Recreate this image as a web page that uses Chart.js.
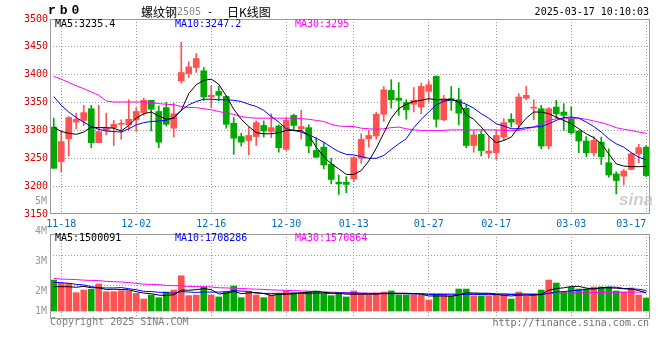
<!DOCTYPE html>
<html><head><meta charset="utf-8">
<script src="https://cdn.jsdelivr.net/npm/chart.js@4/dist/chart.umd.min.js"></script>
<style>
html,body{margin:0;padding:0;background:#fff;}
#wrap{position:relative;width:660px;height:360px;overflow:hidden;background:#fff;}
canvas{position:absolute;left:0;}
.t{position:absolute;white-space:pre;font-family:"DejaVu Sans Mono",monospace;font-size:10px;line-height:12px;height:12px;}
.cjk{position:absolute;white-space:pre;font-family:"Noto Sans CJK SC",sans-serif;font-size:12px;line-height:14px;height:14px;color:#000;}
</style></head><body>
<div id="wrap">
<canvas id="main" width="660" height="230" style="top:0;width:660px;height:230px"></canvas>
<canvas id="vol" width="660" height="150" style="top:190px;width:660px;height:150px"></canvas>
<div class="t" style="left:48px;top:3px;font-family:'Liberation Mono',monospace;font-weight:bold;font-size:13px;line-height:16px;height:16px;letter-spacing:4px;">rb0</div>
<div class="cjk" style="left:141px;top:5px;">螺纹钢</div>
<div class="t" style="left:177px;top:6px;color:#888;">2505</div>
<div class="t" style="left:207px;top:6px;">-</div>
<div class="cjk" style="left:227px;top:5px;">日K线图</div>
<div class="t" style="right:11px;top:6px;text-align:right;">2025-03-17 10:10:03</div>
<div class="t" id="l5" style="left:55px;top:18px;color:#000;"></div>
<div class="t" id="l10" style="left:175px;top:18px;color:#0000ff;"></div>
<div class="t" id="l30" style="left:295px;top:18px;color:#ff00ff;"></div>
<div class="t" id="v5" style="left:55px;top:232px;color:#000;"></div>
<div class="t" id="v10" style="left:175px;top:232px;color:#0000ff;"></div>
<div class="t" id="v30" style="left:295px;top:232px;color:#ff00ff;"></div>
<div class="t" style="left:50px;top:316px;color:#808080;">Copyright 2025 SINA.COM</div>
<div class="t" style="right:11px;top:317px;color:#707070;text-align:right;">http://finance.sina.com.cn</div>
<div style="position:absolute;left:619px;top:190px;font-family:'Liberation Sans',sans-serif;font-style:italic;font-weight:bold;font-size:17px;line-height:20px;color:rgba(190,190,190,0.75);">sina</div>
</div>
<script>
const dates = ['11-15','11-18','11-19','11-20','11-21','11-22','11-25','11-26','11-27','11-28','11-29','12-02','12-03','12-04','12-05','12-06','12-09','12-10','12-11','12-12','12-13','12-16','12-17','12-18','12-19','12-20','12-23','12-24','12-25','12-26','12-27','12-30','12-31','01-02','01-03','01-06','01-07','01-08','01-09','01-10','01-13','01-14','01-15','01-16','01-17','01-20','01-21','01-22','01-23','01-24','01-27','02-05','02-06','02-07','02-10','02-11','02-12','02-13','02-14','02-17','02-18','02-19','02-20','02-21','02-24','02-25','02-26','02-27','02-28','03-03','03-04','03-05','03-06','03-07','03-10','03-11','03-12','03-13','03-14','03-17'];
const xTickLabels = ['11-18','12-02','12-16','12-30','01-13','01-27','02-17','03-03','03-17'];
const priceTicks = [3150,3200,3250,3300,3350,3400,3450,3500];
const volTickValues = [1.333,2,3,4,5];
const volTickLabels = ['1M','2M','3M','4M','5M'];

const open = [3306,3244,3285,3315,3318,3339,3278,3300,3305,3311, 3310,3319,3332,3354,3334,3341,3304,3389,3402,3413, 3407,3360,3370,3361,3313,3289,3282,3289,3309,3298, 3308,3266,3327,3303,3305,3264,3270,3239,3207,3207, 3213,3250,3285,3290,3329,3372,3358,3350,3347,3342, 3370,3397,3319,3357,3355,3340,3273,3293,3259,3260, 3288,3320,3311,3358,3340,3339,3272,3342,3333,3321, 3299,3281,3260,3279,3242,3222,3218,3230,3258,3270];
const high = [3322,3300,3325,3331,3345,3345,3345,3331,3318,3319, 3355,3341,3358,3354,3344,3350,3349,3458,3423,3438, 3413,3380,3379,3362,3323,3295,3306,3317,3317,3330, 3310,3323,3329,3336,3310,3287,3278,3250,3220,3217, 3253,3294,3300,3333,3379,3391,3386,3355,3377,3385, 3389,3398,3363,3379,3376,3347,3300,3300,3289,3301, 3321,3330,3366,3379,3355,3345,3341,3354,3348,3342, 3300,3289,3289,3288,3267,3226,3230,3260,3275,3273];
const low = [3232,3226,3254,3303,3309,3269,3278,3292,3273,3284, 3300,3298,3327,3299,3269,3308,3288,3385,3395,3404, 3354,3341,3353,3304,3257,3272,3256,3273,3288,3287, 3261,3264,3301,3285,3260,3251,3231,3204,3185,3188, 3208,3241,3270,3284,3316,3340,3327,3320,3333,3330, 3351,3306,3317,3336,3310,3269,3261,3254,3251,3248, 3282,3306,3301,3355,3319,3267,3267,3321,3300,3293, 3260,3253,3254,3239,3216,3186,3202,3229,3242,3217];
const close = [3232,3280,3323,3320,3332,3278,3298,3304,3311,3312, 3320,3334,3354,3338,3279,3311,3330,3404,3414,3429, 3360,3363,3363,3311,3286,3279,3291,3314,3299,3305, 3269,3318,3309,3307,3272,3252,3238,3212,3204,3203, 3251,3284,3291,3329,3373,3355,3354,3337,3354,3379, 3382,3320,3357,3354,3331,3273,3292,3264,3263,3291, 3314,3315,3360,3363,3341,3272,3339,3330,3327,3296, 3281,3260,3282,3253,3220,3210,3227,3258,3269,3219];

const ma5 = [3306,3298,3295,3293,3297,3306,3305,3305,3304,3299, 3309,3322,3330,3333,3326,3320,3322,3336,3366,3382, 3390,3392,3383,3362,3338,3320,3307,3296,3294,3294, 3296,3300,3300,3300,3291,3270,3253,3240,3231,3221, 3221,3228,3245,3268,3295,3322,3339,3347,3352,3354, 3357,3355,3355,3356,3351,3328,3320,3306,3290,3278, 3282,3288,3306,3322,3333,3333,3330,3324,3318,3312, 3303,3294,3287,3276,3258,3240,3236,3235,3235,3235.4];
const ma10 = [3361,3345,3333,3323,3315,3307,3302,3299,3298,3297, 3303,3310,3314,3316,3317,3318,3323,3336,3346,3352, 3356,3356,3355,3355,3354,3352,3347,3343,3336,3325, 3315,3303,3300,3297,3292,3286,3279,3270,3262,3257, 3256,3253,3250,3250,3255,3266,3276,3285,3305,3320, 3333,3346,3352,3355,3352,3347,3340,3330,3322,3312, 3308,3303,3303,3305,3306,3307,3312,3318,3323,3324, 3322,3315,3307,3297,3285,3276,3270,3260,3252,3247.2];
const ma30 = [3397,3392,3386,3380,3375,3369,3363,3353,3351,3351, 3351,3351,3351,3350,3348,3347,3346,3343,3341,3341, 3339,3337,3334,3331,3329,3325,3323,3322,3322,3322, 3322,3322,3322,3321,3320,3318,3316,3311,3308,3307, 3307,3304,3303,3302,3303,3305,3306,3303,3301,3300, 3300,3300,3300,3301,3301,3301,3301,3301,3301,3301, 3300,3300,3300,3303,3306,3312,3318,3321,3322,3322, 3322,3320,3317,3314,3310,3305,3302,3300,3297,3295];

// volume in millions of lots
const volume = [2.58,2.31,2.31,1.53,1.75,1.81,2.25,1.61,1.61,1.69, 1.69,1.47,1.00,1.33,1.11,1.58,1.75,2.94,1.28,1.33, 2.00,1.33,1.17,1.58,2.08,1.11,1.61,1.33,1.11,1.33, 1.50,1.69,1.53,1.53,1.61,1.67,1.39,1.28,1.50,1.17, 1.67,1.33,1.33,1.50,1.58,1.67,1.33,1.33,1.33,1.33, 0.92,1.33,1.33,1.25,1.83,1.83,1.25,1.25,1.25,1.42, 1.33,1.00,1.58,1.25,1.42,1.75,2.58,2.33,1.58,1.97, 1.83,1.83,2.00,2.00,2.00,1.67,1.58,1.92,1.33,1.08];
const volMa5 = [2.03,2.03,2.02,1.98,2.05,1.94,1.93,1.79,1.81,1.79, 1.77,1.61,1.49,1.44,1.32,1.30,1.35,1.74,1.73,1.78, 1.86,1.78,1.42,1.48,1.63,1.45,1.51,1.54,1.45,1.30, 1.38,1.39,1.43,1.52,1.57,1.61,1.55,1.50,1.49,1.40, 1.40,1.39,1.40,1.40,1.48,1.48,1.48,1.48,1.45,1.40, 1.25,1.25,1.25,1.23,1.33,1.51,1.50,1.48,1.48,1.40, 1.30,1.25,1.32,1.32,1.32,1.40,1.72,1.87,1.93,2.04, 2.06,1.91,1.84,1.93,1.93,1.90,1.85,1.83,1.70,1.500091];
const volMa10 = [2.39,2.36,2.31,2.22,2.17,2.03,1.94,1.92,1.92,1.95, 1.86,1.77,1.64,1.62,1.56,1.53,1.48,1.62,1.58,1.55, 1.58,1.57,1.58,1.61,1.70,1.66,1.64,1.48,1.47,1.47, 1.42,1.45,1.49,1.48,1.44,1.49,1.47,1.46,1.50,1.49, 1.50,1.47,1.45,1.45,1.44,1.44,1.44,1.44,1.42,1.44, 1.37,1.37,1.37,1.34,1.37,1.38,1.37,1.37,1.36,1.37, 1.41,1.37,1.40,1.40,1.36,1.35,1.48,1.59,1.62,1.68, 1.73,1.81,1.85,1.93,1.99,1.98,1.88,1.84,1.81,1.708286];
const volMa30 = [2.72,2.66,2.64,2.62,2.57,2.55,2.53,2.47,2.44,2.42, 2.36,2.31,2.24,2.22,2.20,2.13,2.11,2.10,2.04,2.03, 2.02,2.00,1.94,1.92,1.90,1.88,1.84,1.82,1.80,1.76, 1.74,1.72,1.70,1.67,1.65,1.62,1.60,1.57,1.55,1.53, 1.52,1.50,1.49,1.48,1.47,1.47,1.46,1.46,1.45,1.45, 1.44,1.44,1.43,1.43,1.43,1.44,1.44,1.44,1.44,1.44, 1.43,1.42,1.42,1.42,1.42,1.43,1.46,1.48,1.49,1.50, 1.51,1.52,1.53,1.54,1.55,1.56,1.56,1.57,1.57,1.570864];

const RED = '#ff5252', GREEN = '#00a800', GRID = '#a0a0a0', FRAME = '#999999';
const MONO = {family: 'DejaVu Sans Mono', size: 10};
const colors = dates.map((d, i) => close[i] >= open[i] ? RED : GREEN);
const shown = new Set(xTickLabels);
const last = a => a[a.length - 1];

document.getElementById('l5').textContent = 'MA5:' + last(ma5);
document.getElementById('l10').textContent = 'MA10:' + last(ma10);
document.getElementById('l30').textContent = 'MA30:' + last(ma30);
document.getElementById('v5').textContent = 'MA5:' + (last(volMa5) * 1e6).toFixed(0);
document.getElementById('v10').textContent = 'MA10:' + (last(volMa10) * 1e6).toFixed(0);
document.getElementById('v30').textContent = 'MA30:' + (last(volMa30) * 1e6).toFixed(0);

const xGridColor = c => (c.tick && shown.has(dates[c.tick.value])) ? GRID : 'rgba(0,0,0,0)';
const frame = {
  id: 'frame',
  afterDraw(chart) {
    const {ctx, chartArea: a} = chart;
    ctx.save();
    ctx.strokeStyle = FRAME; ctx.lineWidth = 1;
    ctx.strokeRect(a.left + 0.5, a.top + 0.5, a.right - a.left - 1, a.bottom - a.top - 1);
    ctx.restore();
  }
};
const lineDs = (data, color, axis) => ({type: 'line', data, borderColor: color, borderWidth: 1, pointRadius: 0, tension: 0, order: 0, yAxisID: axis});

new Chart(document.getElementById('main'), {
  type: 'bar',
  data: {
    labels: dates,
    datasets: [
      lineDs(ma5, '#000000', 'y'),
      lineDs(ma10, '#0000ff', 'y'),
      lineDs(ma30, '#ff00ff', 'y'),
      {type: 'bar', data: open.map((o, i) => [o, close[i]]), backgroundColor: colors, barThickness: 6, minBarLength: 1, grouped: false, order: 3, borderWidth: 0},
      {type: 'bar', data: low.map((l, i) => [l, high[i]]), backgroundColor: colors, barThickness: 1, grouped: false, order: 4, borderWidth: 0}
    ]
  },
  options: {
    responsive: false, animation: false, devicePixelRatio: 1,
    layout: {padding: {top: 19, right: 10, left: 0, bottom: 0}},
    plugins: {legend: {display: false}, tooltip: {enabled: false}},
    scales: {
      x: {
        offset: true,
        grid: {offset: false, color: xGridColor, drawTicks: false, lineWidth: 1},
        border: {display: false, dash: [1, 2]},
        ticks: {autoSkip: false, maxRotation: 0, minRotation: 0, align: 'inner', padding: 4, color: '#0070c0', font: MONO,
          callback: (v, i) => shown.has(dates[i]) ? dates[i] : ''},
        afterFit: s => { s.height = 16; }
      },
      y: {
        min: 3150, max: 3500,
        afterBuildTicks: s => { s.ticks = priceTicks.map(v => ({value: v})); },
        grid: {color: c => (c.tick && c.tick.value > 3150 && c.tick.value < 3500) ? GRID : 'rgba(0,0,0,0)', drawTicks: false},
        border: {display: false, dash: [1, 2]},
        ticks: {color: '#e00000', padding: 2, font: MONO, callback: v => String(v)},
        afterFit: s => { s.width = 50; }
      }
    }
  },
  plugins: [frame]
});

new Chart(document.getElementById('vol'), {
  type: 'bar',
  data: {
    labels: dates,
    datasets: [
      lineDs(volMa5, '#000000', 'yVol'),
      lineDs(volMa10, '#0000ff', 'yVol'),
      lineDs(volMa30, '#ff00ff', 'yVol'),
      {type: 'bar', data: volume, backgroundColor: colors, barThickness: 6, order: 3, borderWidth: 0, yAxisID: 'yVol'}
    ]
  },
  options: {
    responsive: false, animation: false, devicePixelRatio: 1,
    layout: {padding: {top: 44, right: 10, left: 0, bottom: 21}},
    plugins: {legend: {display: false}, tooltip: {enabled: false}},
    scales: {
      x: {
        offset: true,
        grid: {offset: false, color: xGridColor, drawTicks: false, lineWidth: 1},
        border: {display: false, dash: [1, 2]},
        ticks: {display: false, autoSkip: false},
        afterFit: s => { s.height = 0; }
      },
      yVol: {display: false, min: -0.6667, max: 6.4167},
      yLab: {
        position: 'left', min: 0.8667, max: 3.7,
        afterBuildTicks: s => { s.ticks = volTickValues.map(v => ({value: v})); },
        grid: {color: c => (c.tick && (c.tick.value === 2 || c.tick.value === 3)) ? GRID : 'rgba(0,0,0,0)', drawTicks: false},
        border: {display: false, dash: [1, 2]},
        ticks: {autoSkip: false, color: '#999999', padding: 3, labelOffset: 6, font: MONO,
          callback: (v, i) => volTickLabels[i]},
        afterFit: s => { s.width = 50; }
      }
    }
  },
  plugins: [frame]
});
</script>
</body></html>
